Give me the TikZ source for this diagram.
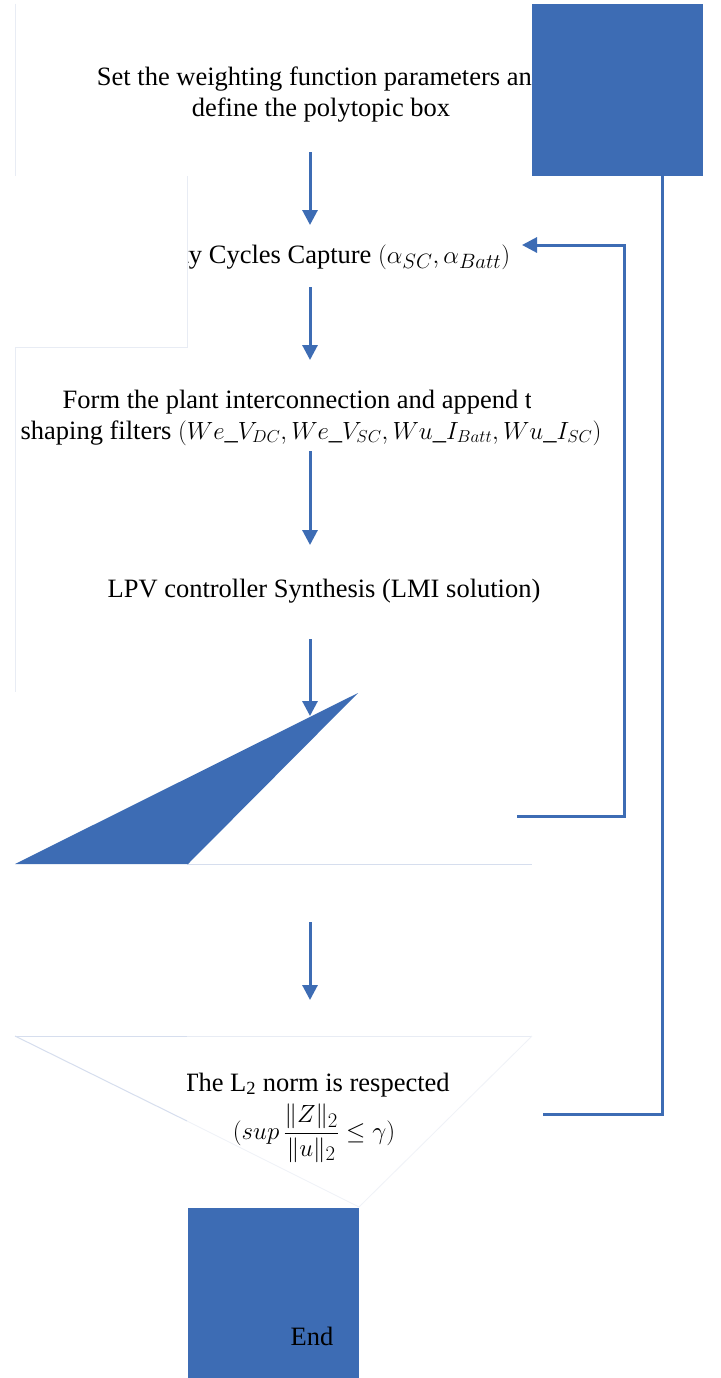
\documentclass[tikz,border=0pt]{standalone}
\usepackage{fontspec}
\setmainfont{Liberation Serif}
\usetikzlibrary{arrows.meta}
\definecolor{flowblue}{RGB}{61,108,180}
\definecolor{rulegrey}{RGB}{232,236,244}
\definecolor{ruleblue}{RGB}{214,222,238}
\begin{document}
\begin{tikzpicture}[x=1pt,y=-1pt,
  txt/.style={font=\fontsize{26.5}{32}\selectfont, text=black, inner sep=0pt},
  mathtxt/.style={font=\fontsize{29}{34}\selectfont, text=black, inner sep=0pt},
  flow/.style={draw=flowblue, line width=3pt, -{Triangle[length=15pt,width=15pt]}},
  loopline/.style={draw=flowblue, line width=3pt},
  blockfill/.style={fill=flowblue, draw=none},
  whiteout/.style={fill=white, draw=none},
  thinrule/.style={draw=rulegrey, line width=1pt},
  bluerule/.style={draw=ruleblue, line width=1pt}]
\useasboundingbox[fill=white] (0,0) rectangle (720,1378);

% step texts
\node[txt, anchor=base] (t1a) at (321,86) {Set the weighting function parameters and};
\node[txt, anchor=base] (t1b) at (321,117) {define the polytopic box};
\node[txt, anchor=base west] (t2) at (149,263) {Duty Cycles Capture {\fontsize{28}{32}\selectfont$(\alpha_{SC},\alpha_{Batt})$}};
\begin{scope}
  \clip (0,370) rectangle (530,420);
  \node[txt, anchor=base] (t3a) at (310,408) {Form the plant interconnection and append the};
\end{scope}
\node[txt, anchor=base] (t3b) at (311,439) {shaping filters $(We\_V_{DC},We\_V_{SC},Wu\_I_{Batt},Wu\_I_{SC})$};
\node[txt, anchor=base] (t4) at (324,597) {LPV controller Synthesis (LMI solution)};
\node[txt, anchor=base] (t5a) at (316,1091) {The L\textsubscript{2} norm is respected};
\node[mathtxt] (t5b) at (314,1133) {$\displaystyle (sup\,\frac{\|Z\|_2}{\|u\|_2}\le\gamma)$};

% white panels over the left side
\fill[whiteout] (15,176) rectangle (187,347);
\fill[whiteout] (15,1037) rectangle (187,1207);

% light outlines
\draw[thinrule] (15,4) -- (15,176);
\draw[thinrule] (187,176) -- (187,347) -- (15,347) -- (15,692);
\draw[bluerule] (187,864) -- (532,864);
\draw[bluerule] (15,1036) -- (187,1036);
\draw[thinrule] (187,1036) -- (532,1036);
\draw[bluerule] (15,1036) -- (187,1121);
\draw[draw=rulegrey!70, line width=0.8pt] (187,1121) -- (359,1207) -- (532,1036);

% solid blocks
\node[blockfill, anchor=north west, minimum width=171pt, minimum height=172pt] (topbox) at (532,4) {};
\fill[flowblue] (15,864) -- (358,693) -- (188,864) -- cycle;
\node[blockfill, anchor=north west, minimum width=171pt, minimum height=170pt] (endbox) at (188,1208) {};
\node[txt] (endlabel) at (312,1336) {End};

% forward arrows
\coordinate (a1s) at (310,152); \coordinate (a1e) at (310,225);
\coordinate (a2s) at (310,287); \coordinate (a2e) at (310,360);
\coordinate (a3s) at (310,451); \coordinate (a3e) at (310,545);
\coordinate (a4s) at (310,639); \coordinate (a4e) at (310,716);
\coordinate (a5s) at (310,922); \coordinate (a5e) at (310,1000);
\draw[flow] (a1s) -- (a1e);
\draw[flow] (a2s) -- (a2e);
\draw[flow] (a3s) -- (a3e);
\draw[flow] (a4s) -- (a4e);
\draw[flow] (a5s) -- (a5e);

% feedback loops
\coordinate (fbA) at (517,816);
\coordinate (fbB) at (522,245);
\draw[flow] (fbA) -- ++(107,0) |- (fbB);
\coordinate (fbC) at (543,1114);
\coordinate (fbD) at (662,176);
\draw[loopline] (fbC) -| (fbD);
\end{tikzpicture}
\end{document}
